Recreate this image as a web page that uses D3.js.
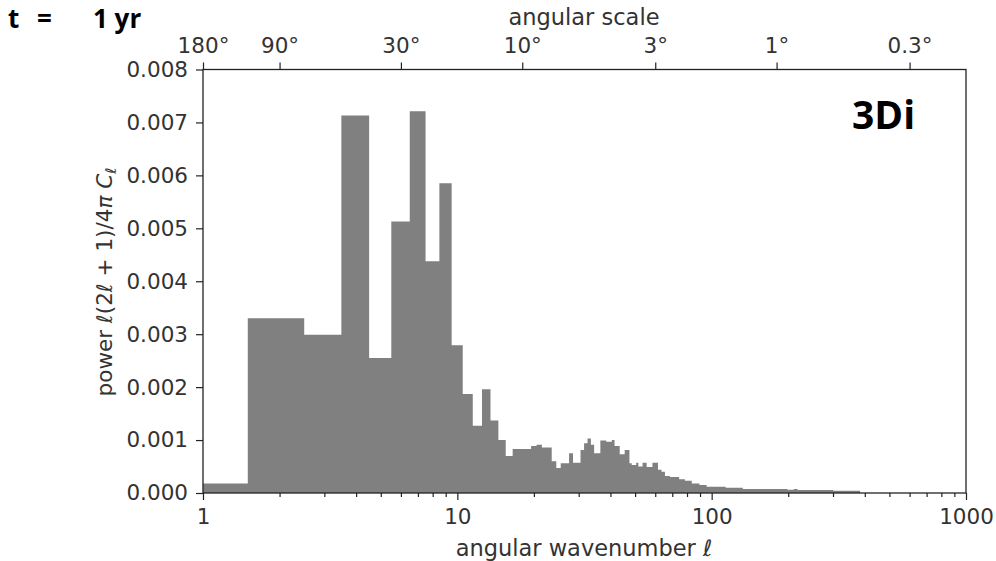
<!DOCTYPE html>
<html><head><meta charset="utf-8">
<script src="https://cdn.jsdelivr.net/npm/d3@7"></script>
<style>
body{margin:0;background:#fff}
svg{display:block}
.ax text{font-family:"DejaVu Sans",sans-serif;font-size:21.5px;fill:#333}
.ax path,.ax line{stroke:#222;stroke-width:1.2}
</style></head><body>
<svg id="c" width="996" height="561"></svg>
<script>
// angular power spectrum, run-length: each run starts at lStart[i] and lasts until lStart[i+1]-1
const lStart = [1,2,3,4,5,6,7,8,9,10,11,12,13,14,15,16,17,20,21,22,24,25,26,28,29,31,32,33,34,35,37,39,41,42,44,46,48,49,51,52,54,56,59,62,64,66,69,75,79,84,90,96,114,133,199,211,218,301];
const lEnd = 383;
const power = [0.00018,0.0033,0.00299,0.00713,0.00255,0.00513,0.00721,0.00438,0.00585,0.00279,0.00187,0.00127,0.00196,0.00137,0.00100,0.00070,0.00083,0.00089,0.00091,0.00086,0.00060,0.00047,0.00056,0.00075,0.00057,0.00081,0.00094,0.00103,0.00091,0.00075,0.00099,0.00097,0.00100,0.00089,0.00073,0.00081,0.00056,0.00053,0.00057,0.00050,0.00057,0.00049,0.00057,0.00044,0.00040,0.00032,0.00030,0.00026,0.00023,0.00018,0.00015,0.00012,0.00010,0.000076,0.00006,0.000075,0.000057,0.000044];
const xMajor = [1,10,100,1000];
const yTicks = [0,0.001,0.002,0.003,0.004,0.005,0.006,0.007,0.008];
const angleTicks = [180,90,30,10,3,1,0.3];
const angleLabels = ["180°","90°","30°","10°","3°","1°","0.3°"];

const svg = d3.select("#c");
const x = d3.scaleLog().domain([1,1000]).range([203,966]);
const y = d3.scaleLinear().domain([0,0.008]).range([493,69.5]);

// bars as one stepped area (no seams)
const pts = lStart.map((s,i)=>({l:Math.max(1,s-0.5), v:power[i]}));
pts.push({l:lEnd+0.5, v:power[power.length-1]});
const area = d3.area().curve(d3.curveStepAfter)
  .x(d=>x(d.l)).y0(y(0)).y1(d=>y(d.v));
svg.append("path").datum(pts).attr("d",area).attr("fill","#808080");

// frame
svg.append("rect").attr("x",203).attr("y",69.5).attr("width",763).attr("height",423.5)
  .attr("fill","none").attr("stroke","#222").attr("stroke-width",1.3);

// bottom axis
const minor = [];
[1,10,100].forEach(b=>{for(let k=2;k<10;k++)minor.push(b*k);});
svg.append("g").attr("class","ax").attr("transform","translate(0,493)")
  .call(d3.axisBottom(x).tickValues(minor).tickSize(4).tickFormat("")).call(g=>g.select(".domain").remove());
svg.append("g").attr("class","ax").attr("transform","translate(0,493)")
  .call(d3.axisBottom(x).tickValues(xMajor).tickSize(7).tickPadding(9).tickFormat(d3.format("d")))
  .call(g=>g.select(".domain").remove());

// left axis
svg.append("g").attr("class","ax").attr("transform","translate(203,0)")
  .call(d3.axisLeft(y).tickValues(yTicks).tickSize(7).tickPadding(8).tickFormat(d3.format(".3f")))
  .call(g=>g.select(".domain").remove());

// top axis: angular scale theta = 180/l
svg.append("g").attr("class","ax").attr("transform","translate(0,69.5)")
  .call(d3.axisTop(x).tickValues(angleTicks.map(a=>180/a)).tickSize(7).tickPadding(10)
    .tickFormat((d,i)=>angleLabels[i]))
  .call(g=>g.select(".domain").remove());

// axis titles
const lbl = {"font-family":"DejaVu Sans, sans-serif","font-size":"22.5px","fill":"#333"};
const t1 = svg.append("text").attr("x",584).attr("y",556).attr("text-anchor","middle");
Object.entries(lbl).forEach(([k,v])=>t1.attr(k,v));
t1.append("tspan").text("angular wavenumber ");
t1.append("tspan").attr("font-style","italic").text("ℓ");

const t2 = svg.append("text").attr("x",584).attr("y",25).attr("text-anchor","middle").text("angular scale");
Object.entries(lbl).forEach(([k,v])=>t2.attr(k,v));

const t3 = svg.append("text").attr("transform","translate(112,282) rotate(-90)").attr("text-anchor","middle");
Object.entries(lbl).forEach(([k,v])=>t3.attr(k,v));
t3.attr("font-size","21.5px");
t3.append("tspan").text("power ");
t3.append("tspan").attr("font-style","italic").text("ℓ");
t3.append("tspan").text("(2");
t3.append("tspan").attr("font-style","italic").text("ℓ");
t3.append("tspan").text(" + 1)/4");
t3.append("tspan").attr("font-style","italic").text("π ");
t3.append("tspan").attr("font-style","italic").text("C");
t3.append("tspan").attr("font-style","italic").attr("font-size","15px").attr("dy","4").text("ℓ");

// annotations
const ann = (tx,xx,yy,fs)=>svg.append("text").attr("x",xx).attr("y",yy)
  .attr("font-family","Open Sans, sans-serif").attr("font-weight",700)
  .attr("font-size",fs).attr("fill","#000").text(tx);
ann("t",8,28,"26px");
ann("=",37,28,"26px");
ann("1 yr",93,28,"26px");
ann("3Di",852,129,"39px");
</script></body></html>
